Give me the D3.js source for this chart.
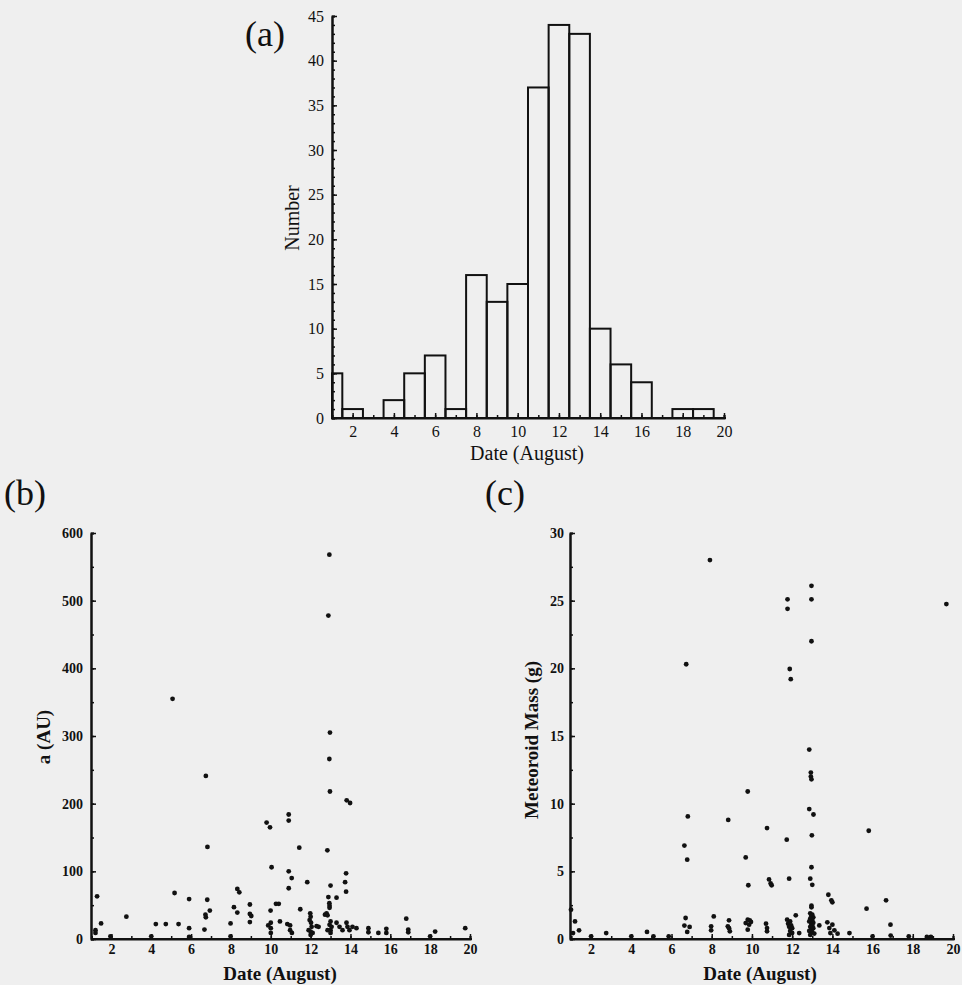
<!DOCTYPE html>
<html>
<head>
<meta charset="utf-8">
<script src="https://cdn.jsdelivr.net/npm/d3@7"></script>
<style>
body { margin:0; background:#efefef; }
svg { display:block; }
text { font-family:"Liberation Serif","DejaVu Serif",serif; fill:#111; }
</style>
</head>
<body>
<svg></svg>
<script>
// histogram (a)
var histDays = [1,2,3,4,5,6,7,8,9,10,11,12,13,14,15,16,17,18,19]
var histCounts = [5,1,0,2,5,7,1,16,13,15,37,44,43,10,6,4,0,1,1]

// scatter (b): semi-major axis
var semiDays = [1.2,1.2,1.28,1.48,1.95,2.75,4.0,4.23,4.73,5.07,5.17,5.37,5.9,5.9,5.9,6.67,6.74,6.81,6.72,6.74,6.82,6.94,
  7.98,7.98,8.15,8.32,8.32,8.42,8.95,8.95,9.02,8.95,9.79,9.87,9.96,9.99,10.0,10.0,10.0,10.04,10.26,10.4,10.46,10.83,
  10.9,10.9,10.9,10.9,10.97,10.97,11.06,11.05,11.43,11.48,11.83,11.98,12.0,11.95,12.02,12.05,11.9,12.0,12.1,12.0,
  12.3,12.4,12.72,12.8,12.84,12.85,12.89,12.89,12.94,12.94,12.94,12.95,12.95,12.97,12.97,13.0,13.0,12.95,13.05,13.0,
  12.85,13.0,13.3,13.3,13.45,13.6,13.73,13.78,13.78,13.8,13.85,13.95,14.1,13.81,13.98,14.3,14.9,14.9,15.4,15.8,15.8,
  16.8,16.9,16.9,18.0,18.25,19.76]
var semiAU = [9,13,63,23,4,33,4,22,22,355,68,22,59,16,3,14,241,58,36,32,136,42,
  23,4,47,39,74,69,51,37,34,25,172,20,165,42,24,16,9,106,52,52,26,22,
  184,175,100,75,20,13,9,90,135,44,84,38,33,28,24,18,13,11,9,6,
  19,18,36,38,131,35,478,62,568,266,53,49,46,305,218,79,26,21,18,13,
  13,9,61,24,18,13,84,97,70,24,18,13,18,205,201,16,16,10,9,15,9,
  30,14,10,4,11,16]

// scatter (c): meteoroid mass
var massDays = [1.0,1.2,1.4,1.1,2.0,2.75,4.0,4.78,5.1,5.86,6.64,6.73,6.78,6.81,6.7,6.64,6.9,6.78,7.91,7.97,7.97,8.1,
  8.82,8.86,8.8,8.86,8.9,9.69,9.79,9.82,9.79,9.89,9.69,9.86,9.95,9.79,10.75,10.85,10.93,10.98,10.7,10.75,10.75,
  11.73,11.77,11.77,11.85,11.88,11.93,11.75,11.9,11.8,11.95,11.85,12.0,11.9,12.0,11.85,12.18,12.35,
  12.85,12.85,12.9,12.93,12.93,12.96,12.96,12.96,12.96,12.98,12.96,13.0,12.96,12.96,13.06,12.9,13.0,12.95,13.05,
  12.9,13.0,12.85,13.05,12.95,13.0,12.9,13.05,12.95,12.85,13.0,13.1,12.9,13.35,13.8,13.95,14.0,13.75,14.0,13.85,
  14.1,13.9,14.26,14.85,15.7,15.81,16.0,16.67,16.89,16.9,17.8,18.7,18.9,19.67]
var massGrams = [2.17,1.3,0.64,0.44,0.2,0.44,0.2,0.52,0.2,0.2,6.9,20.3,5.86,9.06,1.55,0.99,0.89,0.52,28.0,0.94,0.64,1.67,
  8.8,1.38,0.94,0.8,0.57,6.03,10.9,3.97,1.43,1.38,1.18,1.06,1.26,0.69,8.2,4.4,4.1,3.97,1.13,0.81,0.57,
  7.34,25.1,24.4,4.46,19.95,19.2,1.43,1.3,1.13,1.0,0.9,0.8,0.6,0.45,0.3,1.75,0.44,
  14.0,9.6,4.46,12.3,12.0,11.8,26.1,25.1,22.0,7.66,5.3,4.0,2.46,2.34,9.2,1.9,1.8,1.7,1.6,
  1.5,1.4,1.3,1.2,1.1,1.0,0.9,0.8,0.7,0.6,0.5,0.4,0.3,1.0,3.27,2.86,2.71,1.23,1.06,0.81,
  0.64,0.44,0.39,0.44,2.24,8.0,0.2,2.86,1.06,0.25,0.2,0.15,0.15,24.75]

var screen = {width:962, height:985}
var svg = d3.select("svg").attr("width", screen.width).attr("height", screen.height)

svg.append("rect").attr("width", screen.width).attr("height", screen.height).attr("fill", "#efefef")

var styleAxis = function(g, fontSize, weight)
{
    g.selectAll(".domain").attr("stroke", "#111").attr("stroke-width", 2)
    g.selectAll(".tick line").attr("stroke", "#111").attr("stroke-width", 1.5)
    g.selectAll("text").attr("font-size", fontSize).attr("font-weight", weight)
      .attr("font-family", "Liberation Serif").attr("fill", "#111")
}

var drawAxes = function(p)
{
    var g = svg.append("g")
    // minor ticks
    g.append("g").attr("transform", "translate(0," + p.y0 + ")")
      .call(d3.axisBottom(p.x).tickValues(d3.range(1, 21)).tickSize(-3).tickFormat(""))
      .call(styleAxis, 15, p.weight)
    g.append("g").attr("transform", "translate(" + p.x0 + ",0)")
      .call(d3.axisLeft(p.y).tickValues(p.yMinor).tickSize(-3).tickFormat(""))
      .call(styleAxis, 15, p.weight)
    // major ticks
    var xa = g.append("g").attr("transform", "translate(0," + p.y0 + ")")
      .call(d3.axisBottom(p.x).tickValues(d3.range(2, 21, 2)).tickSizeInner(-5).tickSizeOuter(0).tickPadding(p.xPad))
      .call(styleAxis, p.tickFont, p.weight)
    var ya = g.append("g").attr("transform", "translate(" + p.x0 + ",0)")
      .call(d3.axisLeft(p.y).tickValues(p.yTicks).tickSizeInner(-5).tickSizeOuter(0).tickPadding(p.yPad))
      .call(styleAxis, p.tickFont, p.weight)
    xa.select(".domain").attr("d", "M" + p.x0 + ",0H" + (p.x.range()[1] + 2))

    svg.append("text").attr("x", p.xLabelX).attr("y", p.xLabelY)
      .attr("text-anchor", "middle").attr("font-size", p.labelFont).attr("font-weight", p.weight)
      .text("Date (August)")
    svg.append("text")
      .attr("transform", "translate(" + p.yLabelX + "," + p.yLabelY + ") rotate(-90)")
      .attr("text-anchor", "middle").attr("font-size", p.labelFont).attr("font-weight", p.weight)
      .text(p.yLabel)
    svg.append("text").attr("x", p.tagX).attr("y", p.tagY)
      .attr("font-size", 36).text(p.tag)
}

// (a) histogram
var xA = d3.scaleLinear().domain([1, 20]).range([332, 724])
var yA = d3.scaleLinear().domain([0, 45]).range([418, 16])

svg.append("g").selectAll("rect")
  .data(histDays)
  .enter()
  .append("rect")
  .attr("x", function(d){ return xA(Math.max(d - 0.5, 1)) })
  .attr("width", function(d){ return xA(d + 0.5) - xA(Math.max(d - 0.5, 1)) })
  .attr("y", function(d, i){ return yA(histCounts[i]) })
  .attr("height", function(d, i){ return yA(0) - yA(histCounts[i]) })
  .attr("fill", "none")
  .attr("stroke", "#111")
  .attr("stroke-width", 2)

drawAxes({x:xA, y:yA, x0:332, y0:418, yTicks:d3.range(0, 46, 5), yMinor:d3.range(0, 46, 1),
  tickFont:16, labelFont:20, weight:"normal", yPad:8, xPad:8,
  xLabelX:527, xLabelY:460, yLabelX:299, yLabelY:218, yLabel:"Number",
  tag:"(a)", tagX:245, tagY:46})

// (b) scatter
var xB = d3.scaleLinear().domain([1, 20]).range([91.5, 470])
var yB = d3.scaleLinear().domain([0, 600]).range([939, 533])

drawAxes({x:xB, y:yB, x0:91, y0:939, yTicks:d3.range(0, 601, 100), yMinor:d3.range(0, 601, 50),
  tickFont:14, labelFont:19, weight:"bold", yPad:8, xPad:5,
  xLabelX:280, xLabelY:980, yLabelX:50, yLabelY:737, yLabel:"a (AU)",
  tag:"(b)", tagX:4, tagY:505})

svg.append("g").selectAll("circle")
  .data(semiDays)
  .enter()
  .append("circle")
  .attr("cx", function(d){ return xB(d) })
  .attr("cy", function(d, i){ return yB(semiAU[i]) })
  .attr("r", 2.4)
  .attr("fill", "#111")

// (c) scatter
var xC = d3.scaleLinear().domain([1, 20]).range([571, 953])
var yC = d3.scaleLinear().domain([0, 30]).range([939, 533])

drawAxes({x:xC, y:yC, x0:570, y0:939, yTicks:d3.range(0, 31, 5), yMinor:d3.range(0, 31, 2.5),
  tickFont:14, labelFont:19, weight:"bold", yPad:6, xPad:5,
  xLabelX:760, xLabelY:980, yLabelX:538, yLabelY:740, yLabel:"Meteoroid Mass (g)",
  tag:"(c)", tagX:485, tagY:505})

svg.append("g").selectAll("circle")
  .data(massDays)
  .enter()
  .append("circle")
  .attr("cx", function(d){ return xC(d) })
  .attr("cy", function(d, i){ return yC(massGrams[i]) })
  .attr("r", 2.4)
  .attr("fill", "#111")
</script>
</body>
</html>
